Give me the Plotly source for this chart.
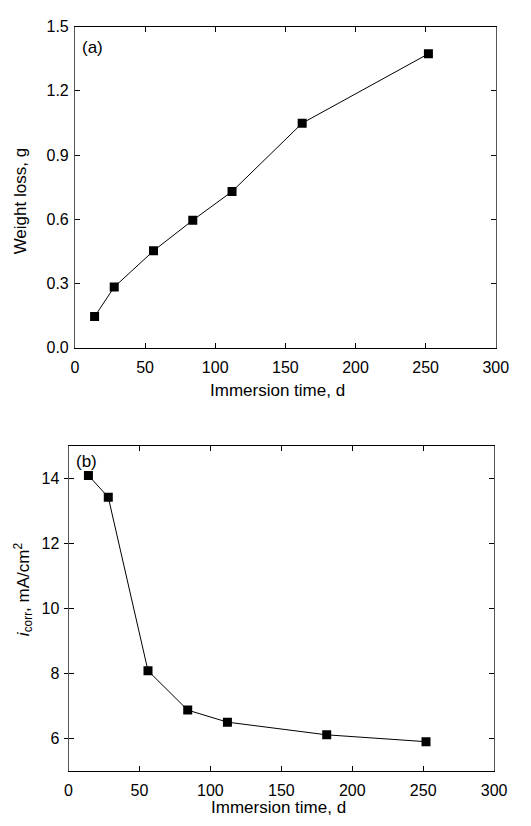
import plotly.graph_objects as go

# Data
time_a = [14, 28, 56, 84, 112, 162, 252]
weight_loss = [0.146, 0.284, 0.453, 0.596, 0.730, 1.049, 1.373]

time_b = [14, 28, 56, 84, 112, 182, 252]
icorr = [14.08, 13.41, 8.08, 6.87, 6.50, 6.11, 5.90]

x_ticks = [0, 50, 100, 150, 200, 250, 300]
ya_ticks = [0, 0.3, 0.6, 0.9, 1.2, 1.5]
yb_ticks = [6, 8, 10, 12, 14]

W, H = 531, 826
FONT = "Liberation Sans, Arial, sans-serif"

fig = go.Figure()
mk = dict(symbol="square", size=9, color="black")
ln = dict(color="black", width=1)
fig.add_trace(go.Scatter(x=time_a, y=weight_loss, mode="lines+markers",
                         marker=mk, line=ln, xaxis="x", yaxis="y", showlegend=False))
fig.add_trace(go.Scatter(x=time_b, y=icorr, mode="lines+markers",
                         marker=mk, line=ln, xaxis="x2", yaxis="y2", showlegend=False))
# invisible trace to render overlay axis (outer half of crossing ticks)
fig.add_trace(go.Scatter(x=[None], y=[None], xaxis="x2", yaxis="y3",
                         showlegend=False, hoverinfo="skip"))

def px_x(p):
    return p / W

def px_y(p):
    return 1 - p / H

TS = 16
TT = 17
tickfont = dict(family=FONT, size=TS, color="black")

common = dict(showgrid=False, zeroline=False, showline=True, mirror="ticks",
              ticks="inside", ticklen=5, tickwidth=1, tickcolor="black",
              linewidth=1, tickfont=tickfont)

fig.update_layout(
    width=W, height=H,
    margin=dict(l=0, r=0, t=0, b=0),
    paper_bgcolor="white", plot_bgcolor="white",
    font=dict(family=FONT, color="black"),
    xaxis=dict(domain=[px_x(73.3), px_x(508)], anchor="y", range=[0, 300],
               tickvals=x_ticks, linecolor="black", ticklabelstandoff=5,
               **common),
    yaxis=dict(domain=[px_y(347), px_y(19)], anchor="x", range=[0, 1.5],
               tickvals=ya_ticks, tickformat=".1f", ticklabelstandoff=2,
               linecolor="#555555", **common),
    xaxis2=dict(domain=[px_x(66.7), px_x(506.3)], anchor="y2", range=[0, 300],
                tickvals=x_ticks, linecolor="black", ticklabelstandoff=5,
                **common),
    yaxis2=dict(domain=[px_y(779), px_y(446.7)], anchor="x2", range=[5, 15],
                tickvals=yb_ticks, linecolor="#555555", ticklabelstandoff=5,
                **common),
    yaxis3=dict(overlaying="y2", anchor="x2", side="left", range=[5, 15],
                tickvals=yb_ticks, showticklabels=False,
                ticks="outside", ticklen=4, tickcolor="black", showgrid=False,
                zeroline=False, showline=False),
)

def ann(text, x, y, angle=0, xanchor="center", size=TT):
    fig.add_annotation(x=px_x(x), y=px_y(y), xref="paper", yref="paper",
                       text=text, showarrow=False, textangle=angle,
                       xanchor=xanchor, yanchor="middle",
                       font=dict(family=FONT, size=size, color="black"))

ann("Immersion time, d", 283, 391)
ann("Immersion time, d", 284, 816)
ann("Weight loss, g", 18, 197, angle=-90)
ann("<i>i</i><sub>corr</sub>, mA/cm<sup>2</sup>", 20, 593, angle=-90)
ann("(a)", 78, 40, xanchor="left")
ann("(b)", 72, 463, xanchor="left")

fig.write_html("out.html")
